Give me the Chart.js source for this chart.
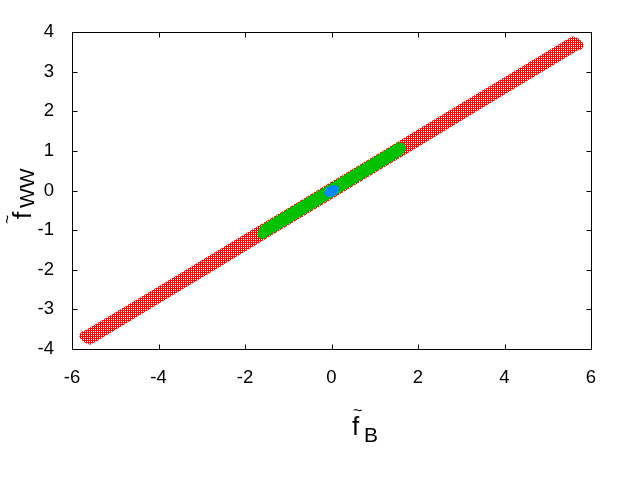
<!DOCTYPE html>
<html><head><meta charset="utf-8">
<script src="https://cdn.jsdelivr.net/npm/chart.js@4/dist/chart.umd.min.js"></script>
<style>html,body{margin:0;padding:0;background:#fff}</style>
</head><body>
<canvas id="c" width="640" height="480"></canvas>
<script>
// ---- data ----
const xTicks = [-6, -4, -2, 0, 2, 4, 6];
const yTicks = [-4, -3, -2, -1, 0, 1, 2, 3, 4];

// outer (red) allowed region outline
const redX = [-5.84, -5.78, -5.70, -5.0, -4.0, -3.0, -2.0, -1.0, 0.0, 1.0, 2.0, 3.0, 4.0, 5.0, 5.45, 5.58, 5.70, 5.80, 5.84, 5.78, 5.70, 5.0, 4.0, 3.0, 2.0, 1.0, 0.0, -1.0, -2.0, -3.0, -4.0, -5.0, -5.45, -5.58, -5.70, -5.80, -5.84];
const redY = [-3.66, -3.56, -3.53, -3.08, -2.42, -1.76, -1.10, -0.44, 0.22, 0.88, 1.54, 2.20, 2.86, 3.52, 3.82, 3.89, 3.84, 3.75, 3.66, 3.56, 3.54, 3.08, 2.42, 1.76, 1.10, 0.44, -0.22, -0.88, -1.54, -2.20, -2.86, -3.52, -3.82, -3.89, -3.84, -3.75, -3.66];

// inner (green) region outline
const greenX = [-1.71, -1.63, -1.0, 0.0, 1.0, 1.55, 1.67, 1.73, 1.71, 1.62, 1.0, 0.0, -1.0, -1.58, -1.69, -1.71];
const greenY = [-1.08, -0.89, -0.47, 0.19, 0.85, 1.22, 1.19, 1.10, 0.99, 0.88, 0.47, -0.19, -0.85, -1.23, -1.18, -1.08];

// central (blue) region outline
const blueX = [-0.17, -0.12, -0.02, 0.10, 0.17, 0.18, 0.12, 0.02, -0.10, -0.17];
const blueY = [-0.06, 0.06, 0.12, 0.14, 0.10, 0.00, -0.10, -0.16, -0.16, -0.06];

const toPts = (xs, ys) => xs.map((x, i) => ({x: x, y: ys[i]}));

// cross-hatch pattern imitating dense '+' markers
function crossPattern(color) {
  const t = document.createElement('canvas');
  t.width = 2; t.height = 2;
  const g = t.getContext('2d');
  g.fillStyle = color;
  g.fillRect(0, 0, 2, 1);
  g.fillRect(0, 0, 1, 2);
  return document.getElementById('c').getContext('2d').createPattern(t, 'repeat');
}

const FONT = '"Liberation Sans", Arial, sans-serif';

const framePlugin = {
  id: 'frame',
  afterDatasetsDraw(chart) {
    const {ctx, chartArea: a, scales: {x, y}} = chart;
    ctx.save();
    ctx.strokeStyle = '#000';
    ctx.lineWidth = 1;
    const L = Math.round(a.left) + 0.5, R = Math.round(a.right) + 0.5;
    const T = Math.round(a.top) + 0.5, B = Math.round(a.bottom) + 0.5;
    ctx.beginPath();
    xTicks.forEach(v => {
      const px = Math.round(x.getPixelForValue(v)) + 0.5;
      ctx.moveTo(px, B); ctx.lineTo(px, B - 5);
      ctx.moveTo(px, T); ctx.lineTo(px, T + 5);
    });
    yTicks.forEach(v => {
      const py = Math.round(y.getPixelForValue(v)) + 0.5;
      ctx.moveTo(L, py); ctx.lineTo(L + 5, py);
      ctx.moveTo(R, py); ctx.lineTo(R - 5, py);
    });
    ctx.stroke();
    ctx.strokeRect(L, T, R - L, B - T);
    ctx.restore();
  },
  afterDraw(chart) {
    const ctx = chart.ctx;
    ctx.save();
    ctx.fillStyle = '#000';
    ctx.textBaseline = 'alphabetic';
    ctx.textAlign = 'left';
    // x title: f~ with subscript B
    ctx.font = '26px ' + FONT;
    ctx.fillText('f', 352, 435);
    ctx.font = '16px ' + FONT;
    ctx.fillText('~', 353, 416);
    ctx.font = '21px ' + FONT;
    ctx.fillText('B', 364, 442);
    // y title: f~ with subscript WW (rotated)
    ctx.translate(31, 219);
    ctx.rotate(-Math.PI / 2);
    ctx.font = '26px ' + FONT;
    ctx.fillText('f', 0, 0);
    ctx.font = '16px ' + FONT;
    ctx.fillText('~', -5, -18);
    ctx.font = '21px ' + FONT;
    ctx.fillText('WW', 11, 3);
    ctx.restore();
  }
};

const tickFont = {family: FONT, size: 18.5};

new Chart(document.getElementById('c'), {
  type: 'scatter',
  data: {
    datasets: [
      {data: toPts(blueX, blueY), showLine: true, fill: 'shape', backgroundColor: 'rgb(0,136,255)', borderWidth: 0, pointRadius: 0},
      {data: toPts(greenX, greenY), showLine: true, fill: 'shape', backgroundColor: 'rgb(0,192,0)', borderWidth: 0, pointRadius: 0},
      {data: toPts(redX, redY), showLine: true, fill: 'shape', backgroundColor: crossPattern('#ff0000'), borderWidth: 0, pointRadius: 0}
    ]
  },
  options: {
    responsive: false,
    animation: false,
    devicePixelRatio: 1,
    layout: {padding: {left: 0, right: 49, top: 32, bottom: 0}},
    plugins: {legend: {display: false}, title: {display: false}, tooltip: {enabled: false}},
    scales: {
      x: {
        type: 'linear', min: -6, max: 6,
        afterBuildTicks: s => { s.ticks = xTicks.map(v => ({value: v})); },
        afterFit: s => { s.height = 131; },
        grid: {display: false, drawTicks: false},
        border: {display: false},
        ticks: {padding: 18, color: '#000', font: tickFont, maxRotation: 0, autoSkip: false}
      },
      y: {
        type: 'linear', min: -4, max: 4,
        afterBuildTicks: s => { s.ticks = yTicks.map(v => ({value: v})); },
        afterFit: s => { s.width = 72; },
        grid: {display: false, drawTicks: false},
        border: {display: false},
        ticks: {padding: 18, color: '#000', font: tickFont, autoSkip: false}
      }
    }
  },
  plugins: [framePlugin]
});
</script>
</body></html>
